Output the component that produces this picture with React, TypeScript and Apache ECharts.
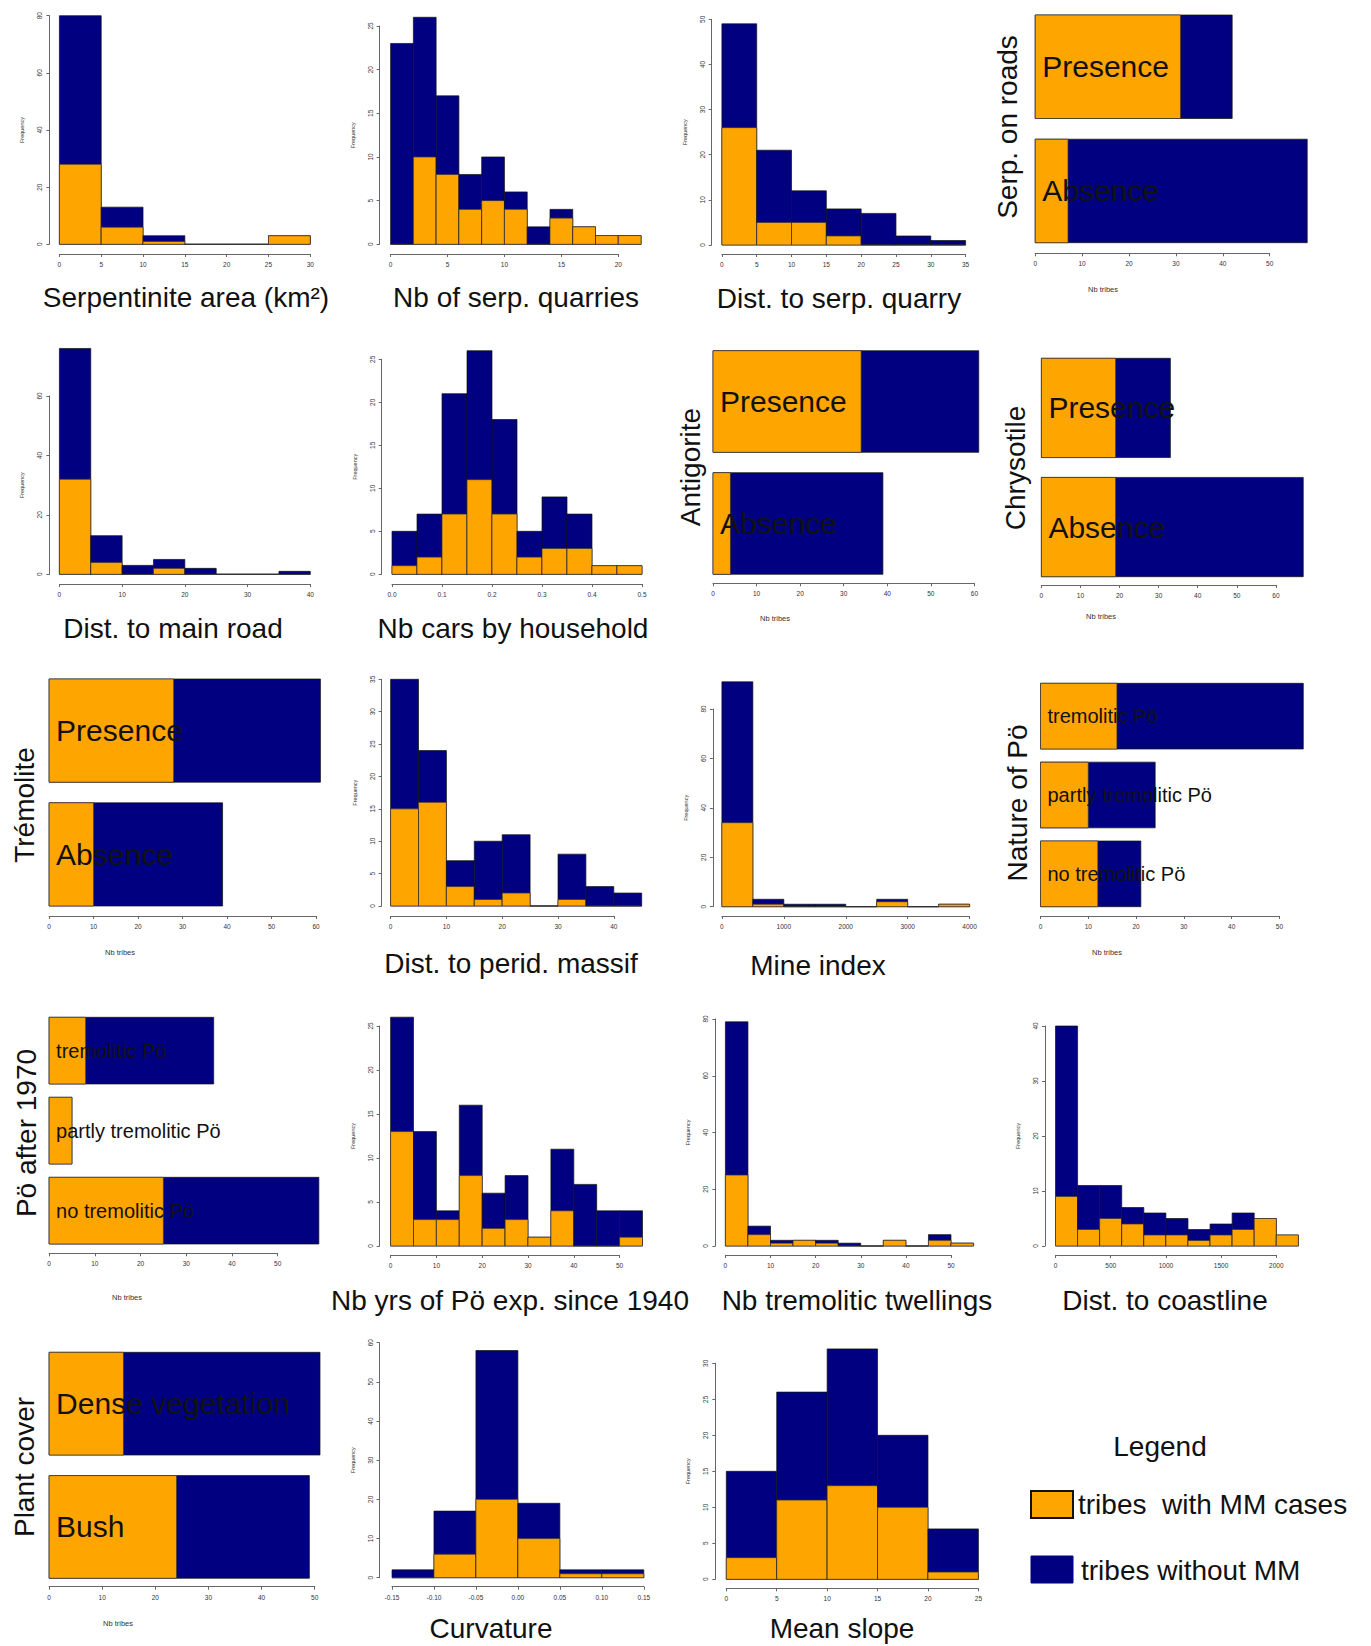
import React, { useEffect, useRef } from "react";
import * as echarts from "echarts";

const ORANGE = "#FFA500";
const NAVY = "#000080";
const FONT = '"Liberation Sans", Arial, Helvetica, sans-serif';
const AXIS = "#666";

// ---------- Histogram data (bin breaks, counts with MM, counts without MM) ----------
const serpAreaBreaks = [0, 5, 10, 15, 20, 25, 30];
const serpAreaWithMM = [28, 6, 1, 0, 0, 3];
const serpAreaWithoutMM = [52, 7, 2, 0, 0, 0];

const quarriesBreaks = [0, 2, 4, 6, 8, 10, 12, 14, 16, 18, 20, 22];
const quarriesWithMM = [0, 10, 8, 4, 5, 4, 0, 3, 2, 1, 1];
const quarriesWithoutMM = [23, 16, 9, 4, 5, 2, 2, 1, 0, 0, 0];

const quarryDistBreaks = [0, 5, 10, 15, 20, 25, 30, 35];
const quarryDistWithMM = [26, 5, 5, 2, 0, 0, 0];
const quarryDistWithoutMM = [23, 16, 7, 6, 7, 2, 1];

const roadDistBreaks = [0, 5, 10, 15, 20, 25, 30, 35, 40];
const roadDistWithMM = [32, 4, 0, 2, 0, 0, 0, 0];
const roadDistWithoutMM = [44, 9, 3, 3, 2, 0, 0, 1];

const carsBreaks = [0, 0.05, 0.1, 0.15, 0.2, 0.25, 0.3, 0.35, 0.4, 0.45, 0.5];
const carsWithMM = [1, 2, 7, 11, 7, 2, 3, 3, 1, 1];
const carsWithoutMM = [4, 5, 14, 15, 11, 3, 6, 4, 0, 0];

const peridBreaks = [0, 5, 10, 15, 20, 25, 30, 35, 40, 45];
const peridWithMM = [15, 16, 3, 1, 2, 0, 1, 0, 0];
const peridWithoutMM = [20, 8, 4, 9, 9, 0, 7, 3, 2];

const mineBreaks = [0, 500, 1000, 1500, 2000, 2500, 3000, 3500, 4000];
const mineWithMM = [34, 1, 0, 0, 0, 2, 0, 1];
const mineWithoutMM = [57, 2, 1, 1, 0, 1, 0, 0];

const poYearsBreaks = [0, 5, 10, 15, 20, 25, 30, 35, 40, 45, 50, 55];
const poYearsWithMM = [13, 3, 3, 8, 2, 3, 1, 4, 0, 0, 1];
const poYearsWithoutMM = [13, 10, 1, 8, 4, 5, 0, 7, 7, 4, 3];

const twellBreaks = [0, 5, 10, 15, 20, 25, 30, 35, 40, 45, 50, 55];
const twellWithMM = [25, 4, 1, 2, 1, 0, 0, 2, 0, 2, 1];
const twellWithoutMM = [54, 3, 1, 0, 1, 1, 0, 0, 0, 2, 0];

const coastBreaks = [0, 200, 400, 600, 800, 1000, 1200, 1400, 1600, 1800, 2000, 2200];
const coastWithMM = [9, 3, 5, 4, 2, 2, 1, 2, 3, 5, 2];
const coastWithoutMM = [31, 8, 6, 3, 4, 3, 2, 2, 3, 0, 0];

const curvBreaks = [-0.15, -0.1, -0.05, 0, 0.05, 0.1, 0.15];
const curvWithMM = [0, 6, 20, 10, 1, 1];
const curvWithoutMM = [2, 11, 38, 9, 1, 1];

const slopeBreaks = [0, 5, 10, 15, 20, 25];
const slopeWithMM = [3, 11, 13, 10, 1];
const slopeWithoutMM = [12, 15, 19, 10, 6];

// ---------- Horizontal bar data (top to bottom) ----------
const presenceAbsence = ["Presence", "Absence"];
const serpRoadsWithMM = [31, 7];
const serpRoadsWithoutMM = [11, 51];
const antigoriteWithMM = [34, 4];
const antigoriteWithoutMM = [27, 35];
const chrysotileWithMM = [19, 19];
const chrysotileWithoutMM = [14, 48];
const tremoliteWithMM = [28, 10];
const tremoliteWithoutMM = [33, 29];
const poNatureCats = ["tremolitic Pö", "partly tremolitic Pö", "no tremolitic Pö"];
const poNatureWithMM = [16, 10, 12];
const poNatureWithoutMM = [39, 14, 9];
const poAfter1970WithMM = [8, 5, 25];
const poAfter1970WithoutMM = [28, 0, 34];
const plantCoverCats = ["Dense vegetation", "Bush"];
const plantCoverWithMM = [14, 24];
const plantCoverWithoutMM = [37, 25];

// ---------- Layout ----------
type HistPanel = {
  breaks: number[]; withMM: number[]; withoutMM: number[];
  xMin: number; xMax: number; xStep: number; yMax: number; yStep: number;
  digits?: number; box: [number, number, number, number]; xOff: number; yOff: number;
};

const histPanels: HistPanel[] = [
  { breaks: serpAreaBreaks, withMM: serpAreaWithMM, withoutMM: serpAreaWithoutMM, xMin: 0, xMax: 30, xStep: 5, yMax: 80, yStep: 20, box: [59.4, 15.7, 250.9, 228.6], xOff: 9.7, yOff: 10 },
  { breaks: quarriesBreaks, withMM: quarriesWithMM, withoutMM: quarriesWithoutMM, xMin: 0, xMax: 20, xStep: 5, yMax: 25, yStep: 5, box: [390.6, 26, 227.7, 218.3], xOff: 9.7, yOff: 11 },
  { breaks: quarryDistBreaks, withMM: quarryDistWithMM, withoutMM: quarryDistWithoutMM, xMin: 0, xMax: 35, xStep: 5, yMax: 50, yStep: 10, box: [721.9, 19.3, 243.7, 225.7], xOff: 9, yOff: 10.2 },
  { breaks: roadDistBreaks, withMM: roadDistWithMM, withoutMM: roadDistWithoutMM, xMin: 0, xMax: 40, xStep: 10, yMax: 60, yStep: 20, box: [59.4, 396, 250.9, 178.3], xOff: 9.7, yOff: 10 },
  { breaks: carsBreaks, withMM: carsWithMM, withoutMM: carsWithoutMM, xMin: 0, xMax: 0.5, xStep: 0.1, yMax: 25, yStep: 5, digits: 1, box: [392, 359.3, 250, 215], xOff: 9.7, yOff: 10.3 },
  { breaks: peridBreaks, withMM: peridWithMM, withoutMM: peridWithoutMM, xMin: 0, xMax: 40, xStep: 10, yMax: 35, yStep: 5, box: [390.6, 679.3, 223.2, 226.7], xOff: 10, yOff: 9 },
  { breaks: mineBreaks, withMM: mineWithMM, withoutMM: mineWithoutMM, xMin: 0, xMax: 4000, xStep: 1000, yMax: 80, yStep: 20, box: [721.9, 709, 247.7, 197.7], xOff: 9.3, yOff: 9 },
  { breaks: poYearsBreaks, withMM: poYearsWithMM, withoutMM: poYearsWithoutMM, xMin: 0, xMax: 50, xStep: 10, yMax: 25, yStep: 5, box: [390.6, 1026, 229, 220], xOff: 9, yOff: 11 },
  { breaks: twellBreaks, withMM: twellWithMM, withoutMM: twellWithoutMM, xMin: 0, xMax: 50, xStep: 10, yMax: 80, yStep: 20, box: [725.4, 1019, 225.6, 227], xOff: 9, yOff: 10 },
  { breaks: coastBreaks, withMM: coastWithMM, withoutMM: coastWithoutMM, xMin: 0, xMax: 2000, xStep: 500, yMax: 40, yStep: 10, box: [1055.5, 1026, 220.8, 220], xOff: 9, yOff: 10.5 },
  { breaks: curvBreaks, withMM: curvWithMM, withoutMM: curvWithoutMM, xMin: -0.15, xMax: 0.15, xStep: 0.05, yMax: 60, yStep: 10, digits: 2, box: [392, 1342.7, 251.8, 235], xOff: 9, yOff: 12.5 },
  { breaks: slopeBreaks, withMM: slopeWithMM, withoutMM: slopeWithoutMM, xMin: 0, xMax: 25, xStep: 5, yMax: 30, yStep: 5, box: [726.3, 1363.3, 252.1, 216], xOff: 9, yOff: 11 },
];

type BarPanel = {
  cats: string[]; withMM: number[]; withoutMM: number[]; xMax: number;
  box: [number, number, number, number]; xOff: number; fontSize: number;
};

const barPanels: BarPanel[] = [
  { cats: presenceAbsence, withMM: serpRoadsWithMM, withoutMM: serpRoadsWithoutMM, xMax: 50, box: [1035.2, 15, 234.5, 227.7], xOff: 10.6, fontSize: 30 },
  { cats: presenceAbsence, withMM: antigoriteWithMM, withoutMM: antigoriteWithoutMM, xMax: 60, box: [713, 350.7, 261.4, 223.6], xOff: 9, fontSize: 30 },
  { cats: presenceAbsence, withMM: chrysotileWithMM, withoutMM: chrysotileWithoutMM, xMax: 60, box: [1041.4, 358.3, 234.5, 218.4], xOff: 8.3, fontSize: 30 },
  { cats: presenceAbsence, withMM: tremoliteWithMM, withoutMM: tremoliteWithoutMM, xMax: 60, box: [49.1, 679, 266.9, 227], xOff: 10, fontSize: 30 },
  { cats: poNatureCats, withMM: poNatureWithMM, withoutMM: poNatureWithoutMM, xMax: 50, box: [1040.5, 683.3, 238.9, 223.4], xOff: 9.3, fontSize: 20 },
  { cats: poNatureCats, withMM: poAfter1970WithMM, withoutMM: poAfter1970WithoutMM, xMax: 50, box: [49.1, 1017.3, 228.6, 226.7], xOff: 9.3, fontSize: 20 },
  { cats: plantCoverCats, withMM: plantCoverWithMM, withoutMM: plantCoverWithoutMM, xMax: 50, box: [49.1, 1352.3, 265.6, 226], xOff: 8.4, fontSize: 30 },
];

const titles: [string, number, number][] = [
  ["Serpentinite area (km²)", 186, 297],
  ["Nb of serp. quarries", 516, 297],
  ["Dist. to serp. quarry", 839, 298],
  ["Dist. to main road", 173, 628],
  ["Nb cars by household", 513, 628],
  ["Dist. to perid. massif", 511, 963],
  ["Mine index", 818, 965],
  ["Nb yrs of Pö exp. since 1940", 510, 1300],
  ["Nb tremolitic twellings", 857, 1300],
  ["Dist. to coastline", 1165, 1300],
  ["Curvature", 491, 1628],
  ["Mean slope", 842, 1628],
];

const sideLabels: [string, number, number][] = [
  ["Serp. on roads", 1007, 127],
  ["Antigorite", 690, 467],
  ["Chrysotile", 1015, 468],
  ["Trémolite", 24, 805],
  ["Nature of Pö", 1017, 803],
  ["Pö after 1970", 26, 1133],
  ["Plant cover", 24, 1467],
];

const tribesLabels: [number, number][] = [
  [1103, 289], [775, 618], [1101, 616], [120, 952], [1107, 952], [127, 1297], [118, 1623],
];

const axisLineStyle = { show: true, onZero: false, lineStyle: { color: AXIS, width: 1 } };
const axisTickStyle = { show: true, length: 3, lineStyle: { color: AXIS, width: 1 } };

function txt(text: string, x: number, y: number, fontSize: number, align = "center", rotation = 0, fill = "#111") {
  return {
    type: "text", x, y, rotation, silent: true,
    style: {
      text, fontSize, fontFamily: FONT, fill,
      align, verticalAlign: "middle", textAlign: align, textVerticalAlign: "middle",
    },
  };
}

function histRender(_params: any, api: any) {
  const x0 = api.value(0), x1 = api.value(1), w = api.value(2), wo = api.value(3);
  const a = api.coord([x0, 0]);
  const b = api.coord([x1, w]);
  const c = api.coord([x1, w + wo]);
  return {
    type: "group",
    children: [
      { type: "rect", shape: { x: a[0], y: c[1], width: b[0] - a[0], height: a[1] - c[1] }, style: { fill: NAVY, stroke: "#111", lineWidth: 0.7 } },
      { type: "rect", shape: { x: a[0], y: b[1], width: b[0] - a[0], height: a[1] - b[1] }, style: { fill: ORANGE, stroke: "#333", lineWidth: 0.7 } },
    ],
  };
}

function makeBarRender(cats: string[], fontSize: number) {
  return (_params: any, api: any) => {
    const i = api.value(0), w = api.value(1), wo = api.value(2);
    const yTop = i * 1.2 + 0.2, yBot = i * 1.2 + 1.2;
    const p0 = api.coord([0, yTop]);
    const p1 = api.coord([w, yBot]);
    const p2 = api.coord([w + wo, yBot]);
    return {
      type: "group",
      children: [
        { type: "rect", shape: { x: p0[0], y: p0[1], width: p2[0] - p0[0], height: p1[1] - p0[1] }, style: { fill: NAVY, stroke: "#111", lineWidth: 0.7 } },
        { type: "rect", shape: { x: p0[0], y: p0[1], width: p1[0] - p0[0], height: p1[1] - p0[1] }, style: { fill: ORANGE, stroke: "#333", lineWidth: 0.7 } },
        {
          type: "text", x: p0[0] + 7, y: (p0[1] + p1[1]) / 2,
          style: { text: cats[i], fontSize, fontFamily: FONT, fill: "#111", align: "left", verticalAlign: "middle", textAlign: "left", textVerticalAlign: "middle" },
        },
      ],
    };
  };
}

function buildOption() {
  const grid: any[] = [], xAxis: any[] = [], yAxis: any[] = [], series: any[] = [];
  const labelBase = { fontSize: 6.5, color: "#333", fontFamily: FONT };

  histPanels.forEach((h) => {
    const idx = grid.length;
    grid.push({ left: h.box[0], top: h.box[1], width: h.box[2], height: h.box[3] });
    xAxis.push({
      gridIndex: idx, type: "value", min: h.xMin, max: h.xMax, interval: h.xStep, offset: h.xOff,
      axisLine: axisLineStyle, axisTick: axisTickStyle, splitLine: { show: false },
      axisLabel: { ...labelBase, margin: 7, formatter: (v: number) => (h.digits ? v.toFixed(h.digits) : String(Math.round(v))) },
    });
    yAxis.push({
      gridIndex: idx, type: "value", min: 0, max: h.yMax, interval: h.yStep, offset: h.yOff,
      axisLine: axisLineStyle, axisTick: axisTickStyle, splitLine: { show: false },
      axisLabel: { ...labelBase, rotate: 90, margin: 6 },
      name: "Frequency", nameLocation: "middle", nameGap: 24, nameRotate: 90,
      nameTextStyle: { fontSize: 5.5, color: "#333", fontFamily: FONT },
    });
    const data = h.withMM.map((w, i) => [h.breaks[i], h.breaks[i + 1], w, h.withoutMM[i]]);
    series.push({
      type: "custom", xAxisIndex: idx, yAxisIndex: idx, renderItem: histRender, data, clip: false, silent: true,
    });
  });

  barPanels.forEach((b) => {
    const idx = grid.length;
    grid.push({ left: b.box[0], top: b.box[1], width: b.box[2], height: b.box[3] });
    xAxis.push({
      gridIndex: idx, type: "value", min: 0, max: b.xMax, interval: 10, offset: b.xOff,
      axisLine: axisLineStyle, axisTick: axisTickStyle, splitLine: { show: false },
      axisLabel: { ...labelBase, margin: 7 },
    });
    yAxis.push({
      gridIndex: idx, type: "value", min: 0.2, max: b.cats.length * 1.2, inverse: true, show: false,
      splitLine: { show: false },
    });
    const data = b.withMM.map((w, i) => [i, w, b.withoutMM[i]]);
    series.push({
      type: "custom", xAxisIndex: idx, yAxisIndex: idx, renderItem: makeBarRender(b.cats, b.fontSize), data, clip: false, silent: true,
    });
  });

  const elements: any[] = [];
  titles.forEach(([t, x, y]) => elements.push(txt(t, x, y, 28)));
  sideLabels.forEach(([t, x, y]) => elements.push(txt(t, x, y, 28, "center", Math.PI / 2)));
  tribesLabels.forEach(([x, y]) => elements.push(txt("Nb tribes", x, y, 7.5, "center", 0, "#333")));

  // legend
  elements.push(txt("Legend", 1160, 1446, 28));
  elements.push({ type: "rect", shape: { x: 1031, y: 1491, width: 42, height: 27 }, style: { fill: ORANGE, stroke: "#111", lineWidth: 2 }, silent: true });
  elements.push(txt("tribes  with MM cases", 1078, 1504, 28, "left"));
  elements.push({ type: "rect", shape: { x: 1031, y: 1556, width: 42, height: 27 }, style: { fill: NAVY, stroke: NAVY, lineWidth: 1 }, silent: true });
  elements.push(txt("tribes without MM", 1081, 1570, 28, "left"));

  return {
    animation: false,
    backgroundColor: "#fff",
    textStyle: { fontFamily: FONT },
    grid, xAxis, yAxis, series,
    graphic: { elements },
  };
}

export default function App() {
  const ref = useRef<HTMLDivElement>(null);
  useEffect(() => {
    if (!ref.current) return;
    const chart = echarts.init(ref.current, null, { renderer: "svg", width: 1371, height: 1646 });
    chart.setOption(buildOption() as any);
    return () => chart.dispose();
  }, []);
  return (
    <div
      ref={ref}
      style={{ position: "absolute", left: 0, top: 0, width: 1371, height: 1646, background: "#fff" }}
    />
  );
}
